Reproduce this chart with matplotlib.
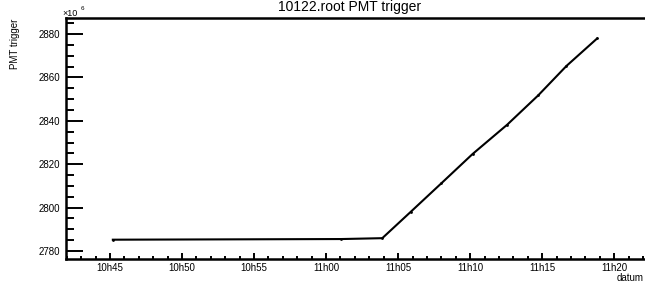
import pandas as pd
import matplotlib
matplotlib.use("Agg")
import matplotlib.pyplot as plt
import matplotlib.dates as mdates

plt.rcParams['font.family'] = ['Liberation Sans', 'DejaVu Sans']

# data (values in units of 1e6)
times = ['10:45:12', '11:01:04', '11:03:54', '11:05:53', '11:08:00',
         '11:10:10', '11:12:34', '11:14:43', '11:16:41', '11:18:49']
pmt = [2785.2, 2785.5, 2785.9, 2798.1, 2811.2,
       2824.7, 2838.2, 2851.7, 2865.3, 2878.0]
title = '10122.root PMT trigger'

t = pd.to_datetime(['2010-01-22 ' + s for s in times])

fig = plt.figure(figsize=(6.45, 2.83), dpi=100)
ax = fig.add_axes([66/645, 24/283, 1 - 66/645, 241/283])

ax.plot(t, pmt, color='black', lw=1.5, marker='o', ms=2, mew=0)

ax.set_xlim(pd.Timestamp('2010-01-22 10:41:57'), pd.Timestamp('2010-01-22 11:22:08'))
ax.set_ylim(2776.3, 2887.4)

ax.xaxis.set_major_locator(mdates.MinuteLocator(byminute=range(0, 60, 5)))
ax.xaxis.set_minor_locator(mdates.MinuteLocator())
ax.xaxis.set_major_formatter(mdates.DateFormatter('%Hh%M'))
ax.yaxis.set_major_locator(plt.MultipleLocator(20))
ax.yaxis.set_minor_locator(plt.MultipleLocator(5))

ax.tick_params(axis='x', which='major', direction='in', length=4.3, width=1.4, pad=3, labelsize=7)
ax.tick_params(axis='x', which='minor', direction='in', length=2.2, width=1.4)
ax.tick_params(axis='y', which='major', direction='in', length=12.2, width=1.4, pad=4.3, labelsize=7)
ax.tick_params(axis='y', which='minor', direction='in', length=5.8, width=1.4)

for side in ['left', 'bottom', 'top']:
    ax.spines[side].set_linewidth(1.8)
ax.spines['right'].set_visible(False)

fig.text(350/645, 1 - 10.5/283, title, ha='center', va='baseline', fontsize=10)
fig.text(15/645, 1 - 44/283, 'PMT trigger', rotation=90, ha='center', va='center', fontsize=7)
fig.text(62/645, 1 - 15.5/283, '×10', ha='left', va='baseline', fontsize=6.5)
fig.text(81/645, 1 - 10/283, '6', ha='left', va='baseline', fontsize=4.5)
fig.text(644/645, 1 - 281/283, 'datum', ha='right', va='baseline', fontsize=7)

fig.savefig('out.png', dpi=100)
